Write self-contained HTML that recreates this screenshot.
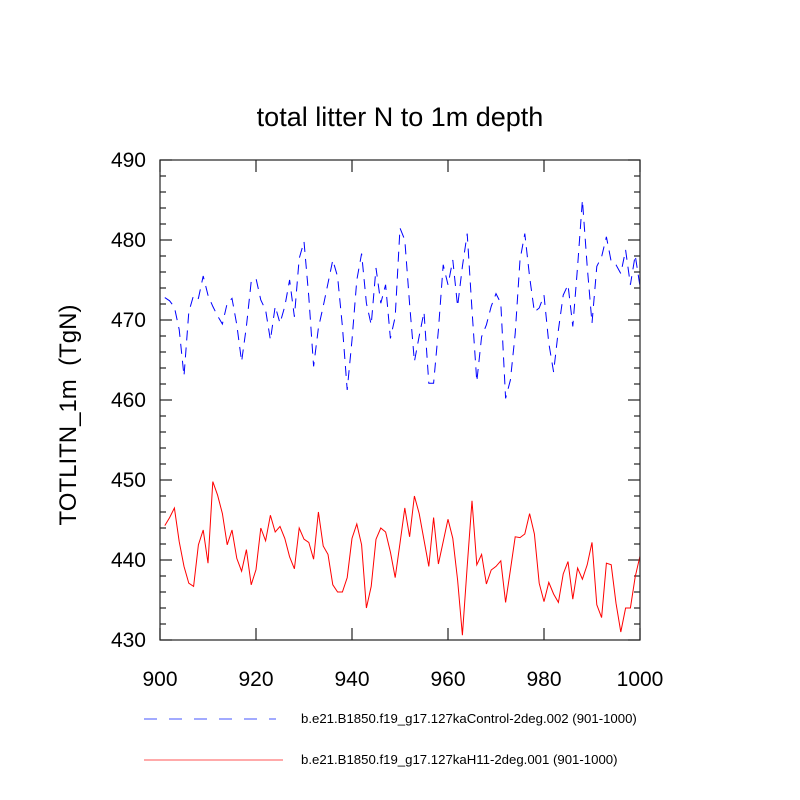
<!DOCTYPE html>
<html><head><meta charset="utf-8"><style>
html,body{margin:0;padding:0;background:#fff;}
svg{display:block;font-family:"Liberation Sans",sans-serif;}
</style></head><body>
<svg id="chart" width="800" height="800">
<text x="400" y="126" font-size="27" text-anchor="middle">total litter N to 1m depth</text>
<text transform="translate(76,415) rotate(-90)" font-size="24" text-anchor="middle" xml:space="preserve">TOTLITN_1m  (TgN)</text>
<g id="ticks"></g>
<g id="series"></g>
<rect x="160" y="160" width="480" height="480" fill="none" stroke="#222" stroke-width="1.2"/>
<g>
<line x1="144" y1="719" x2="276" y2="719" stroke="#4455ff" stroke-width="1" stroke-dasharray="13,12"/>
<text x="301" y="723" font-size="13.2">b.e21.B1850.f19_g17.127kaControl-2deg.002 (901-1000)</text>
<line x1="144" y1="760" x2="283" y2="760" stroke="#ff5555" stroke-width="1"/>
<text x="301" y="764" font-size="13.2">b.e21.B1850.f19_g17.127kaH11-2deg.001 (901-1000)</text>
</g>
</svg>
<script>
const years = [];
for (let y = 901; y <= 1000; y++) years.push(y);
const controlValues = [472.8,472.4,471.6,468.8,463.0,471.0,473.1,472.7,475.5,473.1,
471.7,470.5,469.5,472.1,472.7,469.4,464.8,469.2,474.8,475.2,
472.5,471.25,467.5,471.7,469.6,471.7,475.0,470.4,477.7,479.8,
472.9,464.2,469.0,471.7,474.6,477.5,475.4,469.2,461.25,467.5,
475.0,478.3,472.1,469.4,476.5,472.1,474.4,467.7,470.4,481.5,
480.0,472.0,464.8,468.0,471.0,462.1,462.1,468.75,476.9,474.4,
477.5,471.7,476.7,480.8,471.25,462.3,467.9,469.4,471.7,473.3,
472.1,460.2,462.5,468.3,477.5,480.8,475.4,471.0,471.5,473.1,
467.1,463.5,468.75,473.1,474.4,469.2,476.7,485.0,476.7,469.6,
476.7,477.9,480.4,477.3,476.9,475.8,478.75,474.4,478.1,474.2];
const h11Values = [444.3,445.3,446.5,442.3,439.2,437.1,436.7,441.9,443.75,439.6,
449.8,448.1,445.8,441.9,443.75,440.2,438.6,441.3,436.9,438.8,
444.0,442.4,445.6,443.5,444.2,442.7,440.4,438.9,444.0,442.6,
442.2,440.1,446.0,441.75,440.7,436.9,436.0,436.0,437.8,442.7,
444.5,441.9,434.0,436.7,442.6,444.0,443.5,441.0,437.8,442.1,
446.5,442.9,448.0,445.8,442.5,439.2,445.3,439.5,442.3,445.1,
442.7,437.5,430.6,439.2,447.4,439.4,440.7,437.0,438.75,439.2,
439.9,434.7,438.75,442.9,442.8,443.25,445.8,443.25,437.1,434.8,
437.2,435.75,434.7,438.25,439.8,435.1,439.0,437.6,439.4,442.2,
434.4,432.8,439.6,439.4,434.6,431.0,434.0,434.0,437.9,440.5];
const xTicks = [900,920,940,960,980,1000];
const yTicks = [430,440,450,460,470,480,490];
const NS = "http://www.w3.org/2000/svg";
const xs = v => 160 + (v - 900) * 4.8;
const ys = v => 640 - (v - 430) * 8;
const tg = document.getElementById('ticks');
function ln(x1,y1,x2,y2){const l=document.createElementNS(NS,'line');l.setAttribute('x1',x1);l.setAttribute('y1',y1);l.setAttribute('x2',x2);l.setAttribute('y2',y2);l.setAttribute('stroke','#222');l.setAttribute('stroke-width','1.2');tg.appendChild(l);return l;}
xTicks.forEach(t=>{
  const a=ln(xs(t),640,xs(t),628);
  
  
  ln(xs(t),160,xs(t),172);
  const tx=document.createElementNS(NS,'text');tx.setAttribute('x',xs(t));tx.setAttribute('y',686);tx.setAttribute('font-size','21');tx.setAttribute('text-anchor','middle');tx.textContent=t;
  
  
  tg.appendChild(tx);
});
for(let v=430; v<=490; v+=2){
  const major = (v%10===0);
  const len = major?12:6;
  const a=ln(160,ys(v),160+len,ys(v));
  
  
  ln(640,ys(v),640-len,ys(v));
}
yTicks.forEach(t=>{
  const tx=document.createElementNS(NS,'text');tx.setAttribute('x',146);tx.setAttribute('y',ys(t)+7);tx.setAttribute('font-size','21');tx.setAttribute('text-anchor','end');tx.textContent=t;
  
  
  tg.appendChild(tx);
});
const sg = document.getElementById('series');
function draw(vals,color,dash,name){
  const p=document.createElementNS(NS,'polyline');
  p.setAttribute('points',vals.map((v,i)=>xs(years[i]).toFixed(1)+','+ys(v).toFixed(1)).join(' '));
  p.setAttribute('fill','none');p.setAttribute('stroke',color);p.setAttribute('stroke-width','1');
  if(dash)p.setAttribute('stroke-dasharray',dash);
  
  
  sg.appendChild(p);
}
draw(controlValues,'#0000ff','10,7','control-series-line');
draw(h11Values,'#ff0000',null,'h11-series-line');
</script>
</body></html>
